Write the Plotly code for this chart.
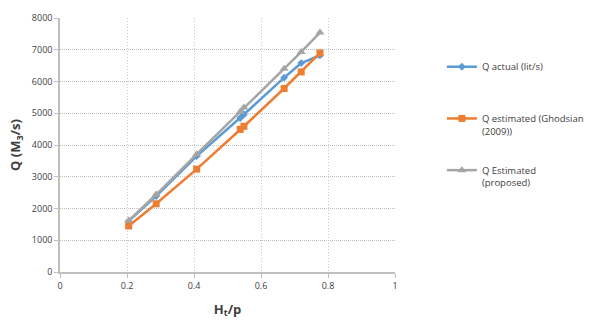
import plotly.graph_objects as go

ht_p = [0.205, 0.287, 0.408, 0.538, 0.549, 0.669, 0.72, 0.776]
q_actual = [1600, 2390, 3650, 4850, 4960, 6120, 6580, 6820]
q_ghodsian = [1450, 2150, 3240, 4490, 4590, 5780, 6300, 6900]
q_proposed = [1620, 2440, 3710, 5050, 5180, 6400, 6930, 7540]

names = ["Q actual (lit/s)<br>&nbsp;", "Q estimated (Ghodsian<br>(2009))", "Q Estimated<br>(proposed)"]
colors = ["#5B9BD5", "#ED7D31", "#A5A5A5"]
symbols = ["diamond", "square", "triangle-up"]
sizes = [6, 7, 8]
series = [q_actual, q_ghodsian, q_proposed]

fig = go.Figure()
for i, (ys, nm, c, s, sz) in enumerate(zip(series, names, colors, symbols, sizes)):
    fig.add_trace(go.Scatter(
        x=ht_p, y=ys, name=nm, mode="lines+markers",
        line=dict(color=c, width=2.5),
        marker=dict(symbol=s, size=sz, color=c),
        legendgroup=str(i),
    ))

fig.update_layout(
    width=609, height=326,
    margin=dict(l=60, r=214, t=11, b=54),
    paper_bgcolor="white", plot_bgcolor="white",
    font=dict(family="Open Sans, Liberation Sans, sans-serif", size=9, color="#404040"),
    legend=dict(x=1.14, y=0.858, xanchor="left", yanchor="top", valign="top",
                tracegroupgap=24, font=dict(size=9.5, color="#404040")),
    showlegend=True,
)
fig.update_xaxes(
    range=[0, 1], tickvals=[0, 0.2, 0.4, 0.6, 0.8, 1], ticktext=["0", "0.2", "0.4", "0.6", "0.8", "1"],
    showgrid=True, gridcolor="#C8C8C8", griddash="1px,2px", gridwidth=1,
    showline=True, linecolor="#BFBFBF", linewidth=1.5,
    ticks="outside", ticklen=4, tickcolor="#BFBFBF", zeroline=False,
    title=dict(text="<b>H<sub>t</sub>/p</b>", font=dict(size=13, color="#404040"), standoff=14),
)
fig.update_yaxes(
    range=[0, 8000], dtick=1000,
    showgrid=True, gridcolor="#BDBDBD", griddash="1px,1px", gridwidth=1,
    showline=True, linecolor="#BFBFBF", linewidth=1.5,
    ticks="outside", ticklen=4, tickcolor="#BFBFBF", zeroline=False,
    title=dict(text="<b>Q (M<sub>3</sub>/s)</b>", font=dict(size=13, color="#404040"), standoff=8),
)
fig.write_html("out.html")
